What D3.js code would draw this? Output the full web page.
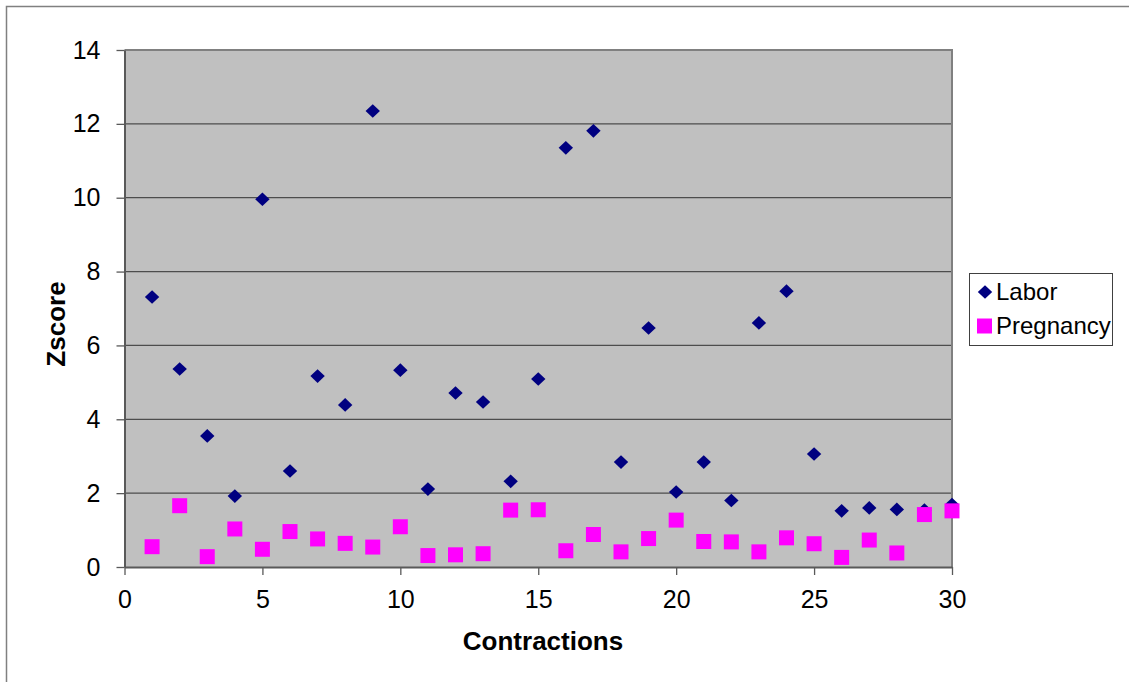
<!DOCTYPE html>
<html>
<head>
<meta charset="utf-8">
<script src="https://cdn.jsdelivr.net/npm/d3@7"></script>
<style>
  html, body { margin: 0; padding: 0; background: #fff; }
  svg { display: block; font-family: "Liberation Sans", Arial, sans-serif; }
</style>
</head>
<body>
<svg id="chart" width="1129" height="682"></svg>
<script>
const contractions = [1,2,3,4,5,6,7,8,9,10,11,12,13,14,15,16,17,18,19,20,21,22,23,24,25,26,27,28,29,30];
const labor = [7.31,5.36,3.55,1.92,9.96,2.60,5.17,4.39,12.35,5.33,2.11,4.71,4.47,2.32,5.09,11.35,11.81,2.84,6.47,2.03,2.84,1.80,6.61,7.47,3.06,1.52,1.60,1.56,1.54,1.69];
const pregnancy = [0.55,1.66,0.28,1.03,0.48,0.96,0.76,0.64,0.54,1.09,0.31,0.33,0.36,1.54,1.55,0.44,0.88,0.41,0.77,1.27,0.69,0.68,0.41,0.79,0.63,0.26,0.73,0.38,1.42,1.52];
const xTicks = [0,5,10,15,20,25,30];
const yTicks = [0,2,4,6,8,10,12,14];
const seriesNames = ["Labor","Pregnancy"];
const xTitle = "Contractions";
const yTitle = "Zscore";

const svg = d3.select("#chart");
const L = 124.5, R = 952, T = 50, B = 567;
const x = d3.scaleLinear().domain([0,30]).range([L,R]);
const y = d3.scaleLinear().domain([0,14]).range([B,T]);

// outer frame
svg.append("path").attr("d", `M6.5,690 L6.5,6.5 L1140,6.5`).attr("fill","none").attr("stroke","#808080").attr("stroke-width",1.5);

// plot area
svg.append("rect").attr("x",L).attr("y",T).attr("width",R-L).attr("height",B-T).attr("fill","#C0C0C0");

// gridlines
svg.append("g").selectAll("line").data(yTicks.filter(d=>d>0 && d<14)).join("line")
  .attr("x1",L).attr("x2",R).attr("y1",d=>y(d)).attr("y2",d=>y(d))
  .attr("stroke","#4d4d4d").attr("stroke-width",1.3);

// plot border top/right
svg.append("path").attr("d",`M${L},${T} L${R},${T} L${R},${B}`).attr("fill","none").attr("stroke","#808080").attr("stroke-width",2);

// axes
const yAxis = d3.axisLeft(y).tickValues(yTicks).tickSize(8).tickPadding(16).tickSizeOuter(0);
const gy = svg.append("g").attr("transform",`translate(${L},0)`).call(yAxis);
const xAxis = d3.axisBottom(x).tickValues(xTicks).tickSize(8).tickPadding(15).tickSizeOuter(0);
const gx = svg.append("g").attr("transform",`translate(0,${B})`).call(xAxis);
[gx,gy].forEach(g=>{
  g.select(".domain").attr("stroke","#595959").attr("stroke-width",2);
  g.selectAll(".tick line").attr("stroke","#595959").attr("stroke-width",1.3);
  g.selectAll(".tick text").attr("fill","#000").attr("font-size",25).attr("font-family","Liberation Sans, Arial, sans-serif");
});

// titles
svg.append("text").attr("x",543).attr("y",650).attr("text-anchor","middle")
  .attr("font-size",26).attr("font-weight","bold").text(xTitle);
svg.append("text").attr("transform","translate(65,324) rotate(-90)").attr("text-anchor","middle")
  .attr("font-size",26).attr("font-weight","bold").text(yTitle);

// symbols
const diamond = { draw(ctx, size) { const w=7.2, h=6.8; ctx.moveTo(0,-h); ctx.lineTo(w,0); ctx.lineTo(0,h); ctx.lineTo(-w,0); ctx.closePath(); } };
const square = { draw(ctx, size) { const s=7.5; ctx.rect(-s,-s,2*s,2*s); } };
const diamondPath = d3.symbol().type(diamond)();
const squarePath = d3.symbol().type(square)();

svg.append("g").selectAll("path").data(contractions).join("path")
  .attr("d",diamondPath).attr("fill","#000080")
  .attr("transform",(d,i)=>`translate(${x(d)},${y(labor[i])})`);
svg.append("g").selectAll("path").data(contractions).join("path")
  .attr("d",squarePath).attr("fill","#FF00FF")
  .attr("transform",(d,i)=>`translate(${x(d)},${y(pregnancy[i])})`);

// legend
const lg = svg.append("g");
lg.append("rect").attr("x",969.5).attr("y",273.5).attr("width",143).attr("height",72).attr("fill","#fff").attr("stroke","#404040").attr("stroke-width",1);
lg.append("path").attr("d",diamondPath).attr("fill","#000080").attr("transform","translate(985,292)");
lg.append("path").attr("d",squarePath).attr("fill","#FF00FF").attr("transform","translate(984.5,326)");
lg.append("text").attr("x",996).attr("y",300).attr("font-size",24).text(seriesNames[0]);
lg.append("text").attr("x",996).attr("y",334).attr("font-size",24).text(seriesNames[1]);
</script>
</body>
</html>
